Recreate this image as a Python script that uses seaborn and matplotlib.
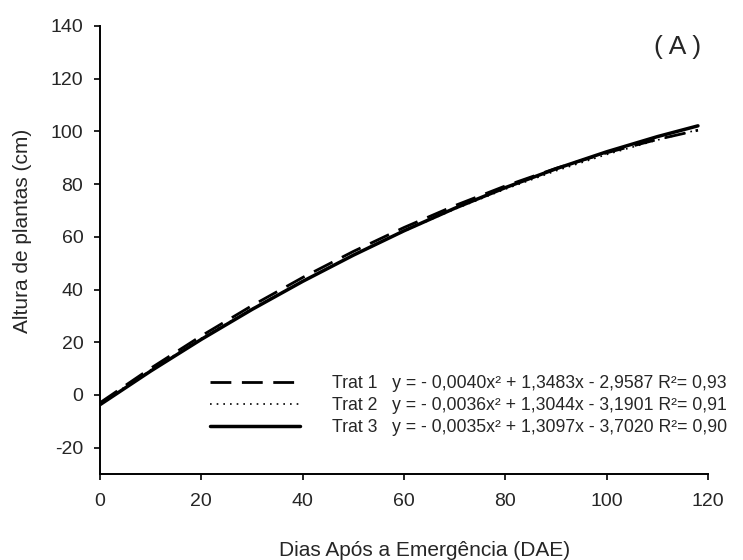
import numpy as np
import pandas as pd
import matplotlib
matplotlib.use("Agg")
import matplotlib.pyplot as plt
import seaborn as sns

# values (every 10 days, last point at 118 DAE)
dae = [0, 10, 20, 30, 40, 50, 60, 70, 80, 90, 100, 110, 118]
trat1 = [-2.96, 10.12, 22.41, 33.89, 44.57, 54.46, 63.54, 71.82, 79.31, 85.99, 91.87, 96.95, 100.44]
trat2 = [-3.19, 9.49, 21.46, 32.70, 43.23, 53.03, 62.11, 70.48, 78.12, 85.05, 91.25, 96.73, 100.60]
trat3 = [-3.70, 9.05, 21.09, 32.44, 43.09, 53.03, 62.28, 70.83, 78.67, 85.82, 92.27, 98.02, 102.11]

labels = [
    "Trat 1   y = - 0,0040x² + 1,3483x - 2,9587 R²= 0,93",
    "Trat 2   y = - 0,0036x² + 1,3044x - 3,1901 R²= 0,91",
    "Trat 3   y = - 0,0035x² + 1,3097x - 3,7020 R²= 0,90",
]

sns.set_style("ticks")
plt.rcParams['font.family'] = ['Liberation Sans', 'DejaVu Sans']
plt.rcParams['axes.unicode_minus'] = False

fig = plt.figure(figsize=(7.43, 5.6), dpi=100)
ax = fig.add_axes([0.1346, 0.1536, 0.8184, 0.8000])

sns.lineplot(x=dae, y=trat1, color="black", lw=2.0, linestyle=(0, (7.5, 3.8)), label=labels[0], ax=ax)
sns.lineplot(x=dae, y=trat2, color="black", lw=1.2, linestyle=(0, (1, 3)), label=labels[1], ax=ax)
sns.lineplot(x=dae, y=trat3, color="black", lw=2.5, linestyle="-", label=labels[2], ax=ax)

ax.set_xlim(0, 120)
ax.set_ylim(-30, 140)
ax.set_xticks(range(0, 121, 20))
ax.set_yticks(range(-20, 141, 20))
ax.tick_params(labelsize=14, length=4, width=1.2, color="black", direction="out", pad=8)
ax.tick_params(axis="x", pad=10)
sns.despine(ax=ax)
for s in ["left", "bottom"]:
    ax.spines[s].set_linewidth(1.4)
    ax.spines[s].set_color("black")

ax.set_xlabel("Dias Após a Emergência (DAE)", fontsize=15)
ax.set_ylabel("Altura de plantas (cm)", fontsize=15)
ax.xaxis.set_label_coords((425 - 100) / 608, -(541 - 474) / 448)
ax.yaxis.set_label_coords(-(100 - 32) / 608, (474 - 231) / 448)

ax.text(114, 132, "( A )", fontsize=19, ha="center", va="center")

leg = ax.legend(loc="upper left", bbox_to_anchor=(0.273, 0.343), bbox_transform=fig.transFigure,
                borderaxespad=0, frameon=False, fontsize=12.7, handlelength=5.1,
                handletextpad=1.8, labelspacing=0.28)

fig.savefig("out.png", dpi=100)
